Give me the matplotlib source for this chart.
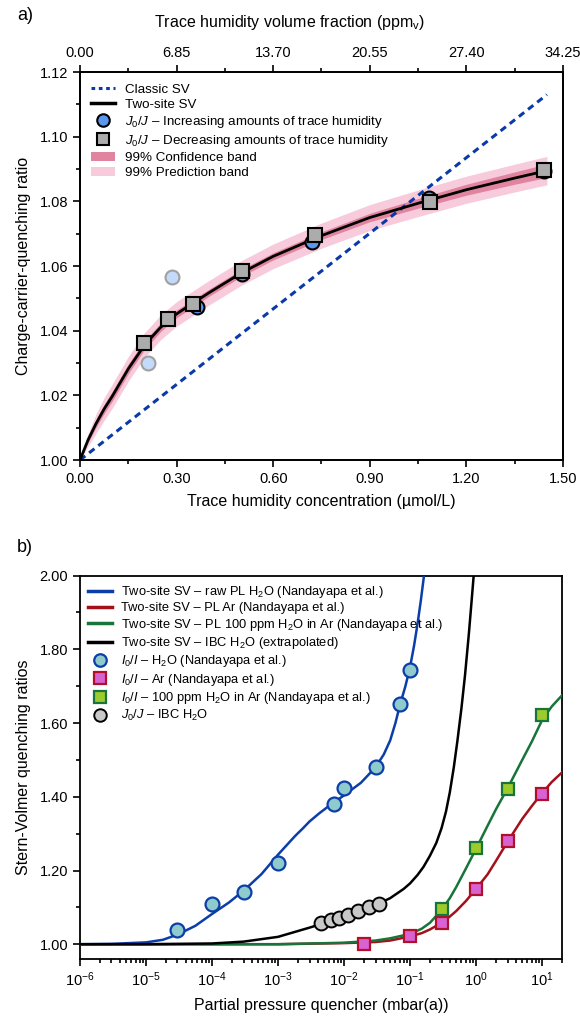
import numpy as np
import matplotlib
matplotlib.use("Agg")
import matplotlib.pyplot as plt
from matplotlib.ticker import MultipleLocator, FormatStrFormatter, LogLocator, NullFormatter
from matplotlib.lines import Line2D
from matplotlib.patches import Patch

plt.rcParams['font.family'] = ['Liberation Sans', 'DejaVu Sans']
plt.rcParams['mathtext.fontset'] = 'custom'
plt.rcParams['mathtext.rm'] = 'Liberation Sans'
plt.rcParams['mathtext.it'] = 'Liberation Sans:italic'
plt.rcParams['mathtext.bf'] = 'Liberation Sans:bold'
plt.rcParams['axes.linewidth'] = 1.3

# ---------------- panel a) data ----------------
# trace humidity concentration (umol/L) vs J0/J
inc_conc = [0.362, 0.502, 0.720, 1.084, 1.441]
inc_ratio = [1.0474, 1.0575, 1.0675, 1.0809, 1.0893]
dec_conc = [0.199, 0.274, 0.352, 0.502, 0.730, 1.087, 1.442]
dec_ratio = [1.0362, 1.0436, 1.0482, 1.0585, 1.0697, 1.0798, 1.0896]
outlier_conc = [0.286, 0.210]
outlier_ratio = [1.0565, 1.0300]

# fitted curves
fit_conc = [0, 0.025, 0.05, 0.075, 0.1, 0.15, 0.2, 0.25, 0.3, 0.4, 0.5, 0.6, 0.75, 0.9,
            1.05, 1.2, 1.35, 1.45]
fit_ratio = [1.000, 1.0062, 1.0113, 1.0158, 1.0197, 1.0282, 1.0355, 1.0410, 1.0452, 1.0517,
             1.0578, 1.0630, 1.0694, 1.0750, 1.0794, 1.0836, 1.0872, 1.0895]
conf_half = [0, 0.0008, 0.0012, 0.0014, 0.0015, 0.0015, 0.0014, 0.0013, 0.0012, 0.0011,
             0.0011, 0.0011, 0.0012, 0.0013, 0.0015, 0.0017, 0.0019, 0.0021]
pred_half = [0, 0.0020, 0.0030, 0.0035, 0.0037, 0.0038, 0.0038, 0.0038, 0.0038, 0.0038,
             0.0038, 0.0038, 0.0039, 0.0040, 0.0041, 0.0042, 0.0043, 0.0044]
classic_conc = [0.0, 1.45]
classic_ratio = [1.0, 1.113]

conc_ticks = [0.0, 0.3, 0.6, 0.9, 1.2, 1.5]
ppm_labels = ['0.00', '6.85', '13.70', '20.55', '27.40', '34.25']

# ---------------- panel b) data ----------------
h2o_p = [3e-5, 1e-4, 3e-4, 1e-3, 7e-3, 1e-2, 3e-2, 7e-2, 1e-1]
h2o_ratio = [1.039, 1.108, 1.141, 1.220, 1.381, 1.423, 1.482, 1.651, 1.744]
ar_p = [0.02, 0.1, 0.3, 1, 3, 10]
ar_ratio = [1.000, 1.021, 1.057, 1.150, 1.281, 1.408]
mix_p = [0.3, 1, 3, 10]
mix_ratio = [1.095, 1.260, 1.421, 1.622]
ibc_p = [4.5e-3, 6.3e-3, 8.5e-3, 1.13e-2, 1.6e-2, 2.4e-2, 3.4e-2]
ibc_ratio = [1.057, 1.066, 1.071, 1.080, 1.090, 1.102, 1.109]

h2o_fit_p = [1e-6, 3e-6, 1e-5, 1.8e-5, 3e-5, 5.6e-5, 1e-4, 1.8e-4, 3e-4, 5.6e-4, 1e-3,
             1.8e-3, 2.4e-3, 3e-3, 4.2e-3, 5.6e-3, 1e-2, 1.8e-2, 3e-2, 4e-2, 5e-2, 6e-2,
             7e-2, 8.5e-2, 0.1, 0.115, 0.13, 0.145, 0.16, 0.18]
h2o_fit = [1.000, 1.001, 1.005, 1.012, 1.026, 1.050, 1.082, 1.113, 1.145, 1.190, 1.243,
           1.293, 1.315, 1.333, 1.355, 1.372, 1.404, 1.438, 1.480, 1.515, 1.553, 1.600,
           1.648, 1.700, 1.752, 1.810, 1.870, 1.930, 1.990, 2.070]
ar_fit_p = [1e-6, 1e-3, 1e-2, 3e-2, 0.05, 0.1, 0.15, 0.2, 0.3, 0.4, 0.5, 0.7, 1, 1.5, 2, 3,
            5, 7, 10, 14, 20]
ar_fit = [1.000, 1.000, 1.003, 1.006, 1.010, 1.021, 1.030, 1.040, 1.058, 1.075, 1.090,
          1.117, 1.150, 1.190, 1.226, 1.278, 1.340, 1.375, 1.410, 1.440, 1.466]
mix_fit_p = [1e-6, 1e-3, 1e-2, 3e-2, 0.05, 0.1, 0.15, 0.2, 0.3, 0.4, 0.5, 0.7, 1, 1.5, 2,
             3, 5, 7, 10, 14, 20]
mix_fit = [1.000, 1.000, 1.004, 1.010, 1.016, 1.028, 1.042, 1.058, 1.093, 1.125, 1.155,
           1.205, 1.259, 1.322, 1.366, 1.423, 1.500, 1.550, 1.608, 1.645, 1.675]
ibc_fit_p = [1e-6, 1e-5, 1e-4, 3e-4, 1e-3, 3e-3, 1e-2, 2e-2, 3e-2, 5e-2, 8e-2, 0.1, 0.13,
             0.16, 0.2, 0.25, 0.3, 0.35, 0.4, 0.46, 0.52, 0.6, 0.68, 0.78, 0.85, 0.92, 1.0]
ibc_fit = [1.000, 1.000, 1.002, 1.007, 1.020, 1.045, 1.074, 1.093, 1.106, 1.125, 1.150,
           1.165, 1.188, 1.210, 1.240, 1.275, 1.315, 1.360, 1.412, 1.480, 1.550, 1.640,
           1.730, 1.845, 1.925, 2.000, 2.100]

# colours
dark_blue = '#0b3ea8'
fit_red = '#a3121b'
fit_green = '#17743a'

fig = plt.figure(figsize=(5.8, 10.23), dpi=100)

# ================= panel a =================
ax1 = fig.add_axes([0.1379, 0.5503, 0.8328, 0.3793])
fc = np.array(fit_conc)
fr = np.array(fit_ratio)
ax1.fill_between(fc, fr - np.array(pred_half), fr + np.array(pred_half),
                 color='#f7cbdb', lw=0, zorder=1)
ax1.fill_between(fc, fr - np.array(conf_half), fr + np.array(conf_half),
                 color='#e0849f', lw=0, zorder=2)
ax1.plot(classic_conc, classic_ratio, color='#0a3aa8', lw=2.2, ls=(0, (2.2, 1.6)), zorder=3)
ax1.plot(fc, fr, color='black', lw=2, zorder=4)
ax1.plot(outlier_conc, outlier_ratio, 'o', ms=10, mfc='#c4dafa', mec='#a0a0a0', mew=1.5,
         zorder=5)
ax1.plot(inc_conc, inc_ratio, 'o', ms=10, mfc='#5b97ef', mec='black', mew=1.5, zorder=5)
ax1.plot(dec_conc, dec_ratio, 's', ms=9.5, mfc='#acacac', mec='black', mew=1.5, zorder=6)

ax1.set_xlim(0, 1.5)
ax1.set_ylim(1.0, 1.12)
ax1.set_xticks(conc_ticks)
ax1.xaxis.set_major_formatter(FormatStrFormatter('%.2f'))
ax1.xaxis.set_minor_locator(MultipleLocator(0.15))
ax1.yaxis.set_major_locator(MultipleLocator(0.02))
ax1.yaxis.set_minor_locator(MultipleLocator(0.01))
ax1.yaxis.set_major_formatter(FormatStrFormatter('%.2f'))
ax1.tick_params(which='both', direction='out', labelsize=10.5, width=1.2, top=False, right=False)
ax1.tick_params(which='major', length=5)
ax1.tick_params(which='minor', length=3)
ax1.set_xlabel('Trace humidity concentration (µmol/L)', fontsize=11.5, labelpad=6)
ax1.set_ylabel('Charge-carrier-quenching ratio', fontsize=11.5, labelpad=6)

ax1t = ax1.twiny()
ax1t.set_xlim(0, 1.5)
ax1t.set_xticks(conc_ticks)
ax1t.set_xticklabels(ppm_labels)
ax1t.xaxis.set_minor_locator(MultipleLocator(0.15))
ax1t.tick_params(which='both', direction='out', labelsize=10.5, width=1.2)
ax1t.tick_params(which='major', length=5)
ax1t.tick_params(which='minor', length=3)
fig.text(290 / 580, 1 - 22 / 1023, 'Trace humidity volume fraction (ppm$_\\mathrm{v}$)',
         ha='center', va='center', fontsize=11.5)

h_a = [
    Line2D([], [], color='#0a3aa8', lw=2.2, ls=(0, (1.2, 1.2))),
    Line2D([], [], color='black', lw=2.5),
    Line2D([], [], ls='none', marker='o', ms=9, mfc='#5b97ef', mec='black', mew=1.5),
    Line2D([], [], ls='none', marker='s', ms=8.5, mfc='#acacac', mec='black', mew=1.5),
    Patch(facecolor='#e0849f', edgecolor='none'),
    Patch(facecolor='#f7cbdb', edgecolor='none'),
]
l_a = ['Classic SV', 'Two-site SV',
       '$J_0/J$ – Increasing amounts of trace humidity',
       '$J_0/J$ – Decreasing amounts of trace humidity',
       '99% Confidence band', '99% Prediction band']
ax1.legend(h_a, l_a, loc='upper left', bbox_to_anchor=(0.0, 1.0), frameon=False,
           fontsize=9.6, labelspacing=0.22, handlelength=1.8, handletextpad=0.7,
           borderaxespad=0.45)

fig.text(17 / 580, 1 - 15 / 1023, 'a)', fontsize=13, ha='left', va='center')

# ================= panel b =================
ax2 = fig.add_axes([0.1379, 0.0626, 0.8310, 0.3747])
ax2.set_xscale('log')
ax2.plot(h2o_fit_p, h2o_fit, color=dark_blue, lw=1.8, zorder=3)
ax2.plot(ar_fit_p, ar_fit, color=fit_red, lw=1.8, zorder=3)
ax2.plot(mix_fit_p, mix_fit, color=fit_green, lw=1.8, zorder=3)
ax2.plot(ibc_fit_p, ibc_fit, color='black', lw=1.8, zorder=3)
ax2.plot(h2o_p, h2o_ratio, 'o', ms=10, mfc='#8fcbcc', mec=dark_blue, mew=1.6, zorder=5)
ax2.plot(ar_p, ar_ratio, 's', ms=9, mfc='#d862d2', mec='#b0102c', mew=1.6, zorder=5)
ax2.plot(mix_p, mix_ratio, 's', ms=9, mfc='#9dcb2b', mec=fit_green, mew=1.6, zorder=5)
ax2.plot(ibc_p, ibc_ratio, 'o', ms=10, mfc='#c8c8c8', mec='black', mew=1.4, zorder=5)

ax2.set_xlim(1e-6, 20)
ax2.set_ylim(0.96, 2.0)
ax2.xaxis.set_major_locator(LogLocator(base=10, numticks=20))
ax2.xaxis.set_minor_locator(LogLocator(base=10, subs=np.arange(2, 10), numticks=20))
ax2.xaxis.set_minor_formatter(NullFormatter())
ax2.yaxis.set_major_locator(MultipleLocator(0.2))
ax2.yaxis.set_minor_locator(MultipleLocator(0.1))
ax2.yaxis.set_major_formatter(FormatStrFormatter('%.2f'))
ax2.tick_params(which='both', direction='out', labelsize=10.5, width=1.2, top=False, right=False)
ax2.tick_params(which='major', length=5)
ax2.tick_params(which='minor', length=3)
ax2.set_xlabel('Partial pressure quencher (mbar(a))', fontsize=11.5, labelpad=6)
ax2.set_ylabel('Stern-Volmer quenching ratios', fontsize=11.5, labelpad=6)

h_b = [
    Line2D([], [], color=dark_blue, lw=2.5),
    Line2D([], [], color=fit_red, lw=2.5),
    Line2D([], [], color=fit_green, lw=2.5),
    Line2D([], [], color='black', lw=2.5),
    Line2D([], [], ls='none', marker='o', ms=9, mfc='#8fcbcc', mec=dark_blue, mew=1.6),
    Line2D([], [], ls='none', marker='s', ms=8, mfc='#d862d2', mec='#b0102c', mew=1.6),
    Line2D([], [], ls='none', marker='s', ms=8, mfc='#9dcb2b', mec=fit_green, mew=1.6),
    Line2D([], [], ls='none', marker='o', ms=9, mfc='#c8c8c8', mec='black', mew=1.4),
]
l_b = ['Two-site SV – raw PL H$_2$O (Nandayapa et al.)',
       'Two-site SV – PL Ar (Nandayapa et al.)',
       'Two-site SV – PL 100 ppm H$_2$O in Ar (Nandayapa et al.)',
       'Two-site SV – IBC H$_2$O (extrapolated)',
       '$I_0/I$ – H$_2$O (Nandayapa et al.)',
       '$I_0/I$ – Ar (Nandayapa et al.)',
       '$I_0/I$ – 100 ppm H$_2$O in Ar (Nandayapa et al.)',
       '$J_0/J$ – IBC H$_2$O']
ax2.legend(h_b, l_b, loc='upper left', bbox_to_anchor=(0.0, 1.0), frameon=False,
           fontsize=9.3, labelspacing=0.18, handlelength=1.8, handletextpad=0.75,
           borderaxespad=0.25)

fig.text(17 / 580, 1 - 548 / 1023, 'b)', fontsize=13, ha='left', va='center')

fig.savefig('out.png', dpi=100)
